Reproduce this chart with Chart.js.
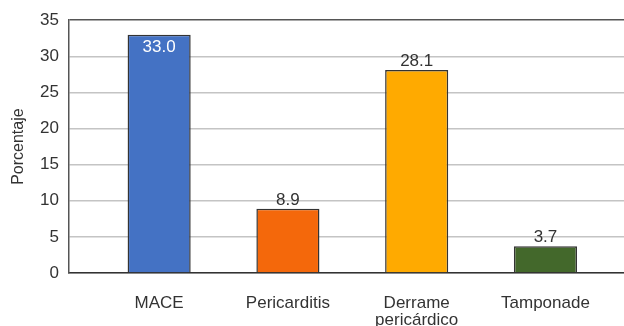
<!DOCTYPE html>
<html>
<head>
<meta charset="utf-8">
<script src="https://cdn.jsdelivr.net/npm/chart.js@4"></script>
<style>
  body { margin: 0; background: #fff; }
</style>
</head>
<body>
<canvas id="chart" width="624" height="326"></canvas>
<script>
const categories = ['MACE', 'Pericarditis', ['Derrame', 'pericárdico'], 'Tamponade'];
const values = [33.0, 8.9, 28.1, 3.7];
const barColors = ['#4472C4', '#F4680B', '#FFAA00', '#43682B'];
const yMax = 35;
const yStep = 5;

// etiquetas de valor sobre cada barra
const valueLabels = {
    id: 'valueLabels',
    afterDatasetsDraw(chart) {
        const ctx = chart.ctx;
        const meta = chart.getDatasetMeta(0);
        ctx.save();
        ctx.font = '17px "Liberation Sans", Arial, sans-serif';
        ctx.textAlign = 'center';
        ctx.textBaseline = 'alphabetic';
        meta.data.forEach((bar, i) => {
            const txt = values[i].toFixed(1);
            if (bar.y - 20 < chart.chartArea.top) {
                ctx.fillStyle = '#ffffff';
                ctx.fillText(txt, bar.x, bar.y + 17);
            } else {
                ctx.fillStyle = '#333333';
                ctx.fillText(txt, bar.x, bar.y - 4);
            }
        });
        ctx.restore();
    }
};

new Chart(document.getElementById('chart'), {
    type: 'bar',
    data: {
        datasets: [{
            data: values.map((v, i) => ({ x: i, y: v })),
            backgroundColor: barColors,
            borderColor: '#333333',
            borderWidth: 1.5,
            categoryPercentage: 1,
            barPercentage: 0.49
        }]
    },
    options: {
        responsive: false,
        animation: false,
        layout: { padding: { top: 19, left: 0, right: 0, bottom: 0 } },
        plugins: {
            legend: { display: false },
            tooltip: { enabled: false }
        },
        scales: {
            x: {
                type: 'linear',
                offset: false,
                min: -0.7,
                max: 3.61,
                grid: { display: false },
                border: { color: '#333333', width: 1.5 },
                afterBuildTicks: s => { s.ticks = s.ticks.filter(t => Number.isInteger(t.value)); },
                afterFit: s => { s.height = 53; },
                ticks: {
                    stepSize: 1,
                    autoSkip: false,
                    maxRotation: 0,
                    padding: 13,
                    color: '#333333',
                    font: { family: '"Liberation Sans", Arial, sans-serif', size: 17, lineHeight: 1.05 },
                    callback: v => categories[v] ?? ''
                }
            },
            y: {
                min: 0,
                max: yMax,
                afterFit: s => { s.width = 69; },
                grid: {
                    drawTicks: false,
                    lineWidth: 1.5,
                    color: c => c.tick.value === yMax ? '#555555' : '#c4c4c4'
                },
                border: { color: '#555555', width: 1.5 },
                ticks: {
                    stepSize: yStep,
                    padding: 10,
                    color: '#333333',
                    font: { family: '"Liberation Sans", Arial, sans-serif', size: 17 }
                },
                title: {
                    display: true,
                    text: 'Porcentaje',
                    color: '#333333',
                    padding: { top: 9, bottom: 0 },
                    font: { family: '"Liberation Sans", Arial, sans-serif', size: 16 }
                }
            }
        }
    },
    plugins: [valueLabels]
});
</script>
</body>
</html>
